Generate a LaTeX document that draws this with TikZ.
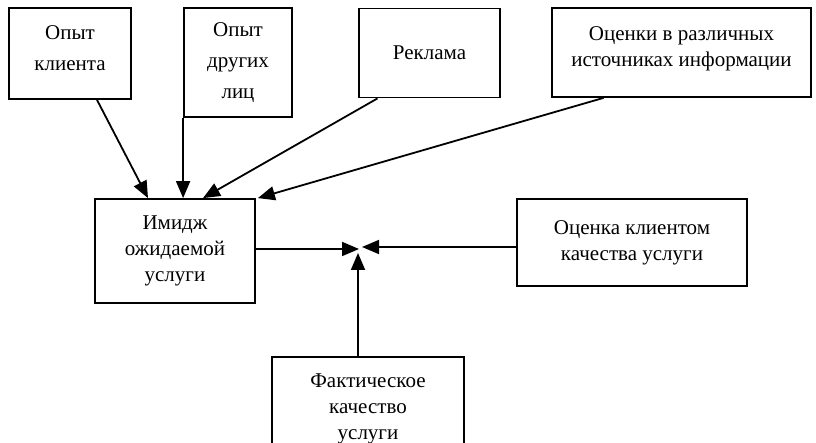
\documentclass[tikz,border=0pt]{standalone}
\usepackage{fontspec}
\setmainfont{Liberation Serif}
\usepackage{tikz}
\usetikzlibrary{arrows.meta}
\tikzstyle{box} = [rectangle, draw, line width=1.8pt, align=center, inner sep=2pt, font=\fontsize{21}{26}\selectfont]
\tikzstyle{wide} = [font=\fontsize{21}{31}\selectfont]
\tikzstyle{arrow} = [draw, line width=1.8pt, -{Triangle[length=17pt, width=14pt]}]

\begin{document}
\begin{tikzpicture}[x=1pt, y=-1pt]
    \clip (0, 0) rectangle (816, 443);
    \fill[white] (0, 0) rectangle (816, 443);
    % sources
    \node[box, wide, minimum width=122pt, minimum height=91pt, text depth=10pt] at (70, 53.5) (own) {Опыт\\клиента};
    \node[box, wide, minimum width=108pt, minimum height=109pt] at (238, 62.5) (others) {Опыт\\других\\лиц};
    \node[box, minimum width=141pt, minimum height=89pt] at (429.5, 53) (adv) {Реклама};
    \node[box, minimum width=259pt, minimum height=89pt, text depth=12pt] at (681.5, 52.5) (ratings) {Оценки в различных\\источниках информации};
    % image
    \node[box, minimum width=160pt, minimum height=104pt] at (175, 251) (image) {Имидж\\ожидаемой\\услуги};
    \path[arrow] ([xshift=27pt]own.south) to ([xshift=-27pt]image.north);
    \path[arrow] (others.south west) to (image.north -| others.south west);
    \path[arrow] ([xshift=-52pt]adv.south) to ([xshift=28pt]image.north);
    \path[arrow] ([xshift=-78pt]ratings.south) to ([xshift=2pt]image.north east);
    % comparison
    \coordinate (jn) at (360, 249);
    \node[box, minimum width=230pt, minimum height=87pt] at (632, 242.5) (eval) {Оценка клиентом\\качества услуги};
    \node[box, minimum width=192pt, minimum height=103pt] at (368, 408.5) (fact) {Фактическое\\качество\\услуги};
    \path[arrow] (image.east |- jn) to ([xshift=-1pt]jn);
    \path[arrow] ([yshift=2pt]eval.west |- jn) to ([xshift=2pt, yshift=2pt]jn);
    \path[arrow] ([xshift=-2pt]fact.north -| jn) to ([xshift=-2pt, yshift=-4pt]jn);
\end{tikzpicture}
\end{document}
